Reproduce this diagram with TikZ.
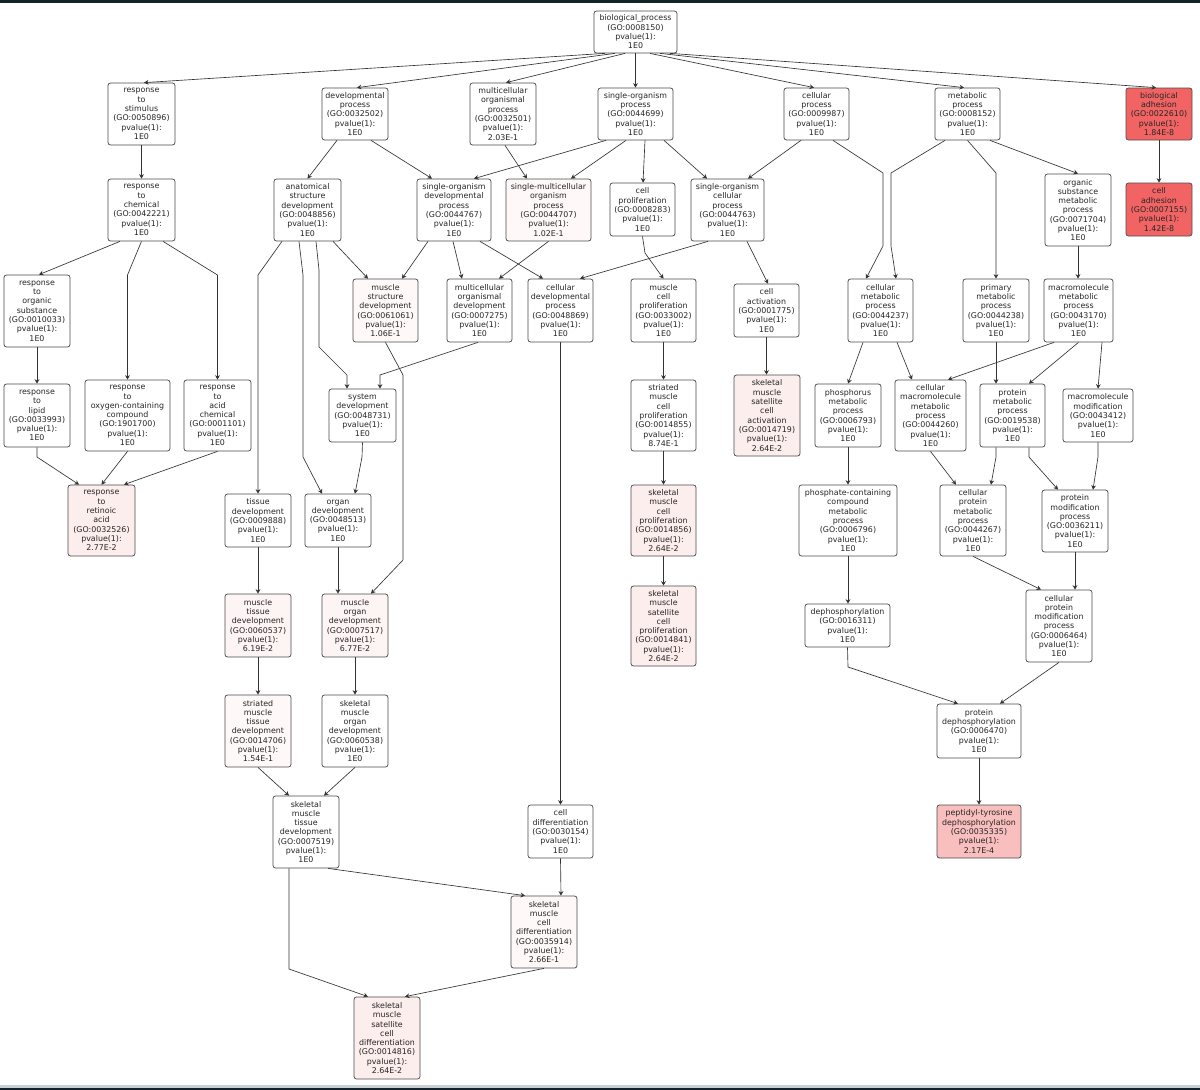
\documentclass[tikz,border=0pt]{standalone}
\usepackage{fontspec}
\newfontfamily\gofont{DejaVu Sans}
\usetikzlibrary{arrows.meta}
\definecolor{pA}{RGB}{252,238,236}
\definecolor{pB}{RGB}{253,245,243}
\definecolor{pC}{RGB}{254,249,248}
\definecolor{redA}{RGB}{242,100,100}
\definecolor{pinkA}{RGB}{249,190,190}
\definecolor{barA}{RGB}{20,34,44}
\definecolor{barB}{RGB}{200,208,212}
\tikzset{
  go/.style={draw=black!70, line width=0.75pt, rounded corners=2.5pt, align=center, inner sep=0pt,
    font=\gofont\fontsize{7.9}{9.3}\selectfont, text=black!85},
  e/.style={draw=black!80, line width=0.65pt, -{Stealth[length=4.5pt,width=4.8pt,inset=1.5pt]}}
}
\newcommand\gonode[6]{\node[go,minimum width=#3pt,minimum height=#4pt,fill=#5] (#1) at (#2) {#6};}
\begin{document}
\begin{tikzpicture}[x=1pt,y=-1pt]
\useasboundingbox (0,0) rectangle (1200,1090);
\fill[white] (0,0) rectangle (1200,1090);
\fill[barA] (0,0) rectangle (1200,2.5);
\fill[barB] (0,1085) rectangle (1200,1087.5);
\fill[barA] (0,1087.5) rectangle (1200,1090);

\gonode{bp}{635.5,32}{83}{42}{white}{biological\_process\\(GO:0008150)\\pvalue(1):\\1E0}
\gonode{rs}{141.5,114}{67}{62}{white}{response\\to\\stimulus\\(GO:0050896)\\pvalue(1):\\1E0}
\gonode{dp}{355,114}{66}{52}{white}{developmental\\process\\(GO:0032502)\\pvalue(1):\\1E0}
\gonode{mop}{503,114}{66}{62}{white}{multicellular\\organismal\\process\\(GO:0032501)\\pvalue(1):\\2.03E-1}
\gonode{sop}{635.5,114}{75}{52}{white}{single-organism\\process\\(GO:0044699)\\pvalue(1):\\1E0}
\gonode{cp}{816.5,114}{65}{52}{white}{cellular\\process\\(GO:0009987)\\pvalue(1):\\1E0}
\gonode{mp}{967.5,114}{65}{52}{white}{metabolic\\process\\(GO:0008152)\\pvalue(1):\\1E0}
\gonode{ba}{1159,114}{66}{52}{redA}{biological\\adhesion\\(GO:0022610)\\pvalue(1):\\1.84E-8}
\gonode{rc}{141.5,210}{67}{62}{white}{response\\to\\chemical\\(GO:0042221)\\pvalue(1):\\1E0}
\gonode{asd}{307.5,210}{67}{62}{white}{anatomical\\structure\\development\\(GO:0048856)\\pvalue(1):\\1E0}
\gonode{sodp}{454,210}{74}{62}{white}{single-organism\\developmental\\process\\(GO:0044767)\\pvalue(1):\\1E0}
\gonode{smop}{548.5,210}{85}{62}{pC}{single-multicellular\\organism\\process\\(GO:0044707)\\pvalue(1):\\1.02E-1}
\gonode{cprol}{642.5,209.5}{65}{53}{white}{cell\\proliferation\\(GO:0008283)\\pvalue(1):\\1E0}
\gonode{socp}{727.5,210}{73}{62}{white}{single-organism\\cellular\\process\\(GO:0044763)\\pvalue(1):\\1E0}
\gonode{osmp}{1078,210}{66}{72}{white}{organic\\substance\\metabolic\\process\\(GO:0071704)\\pvalue(1):\\1E0}
\gonode{ca}{1159,209.5}{66}{53}{redA}{cell\\adhesion\\(GO:0007155)\\pvalue(1):\\1.42E-8}
\gonode{ros}{37,311}{66}{72}{white}{response\\to\\organic\\substance\\(GO:0010033)\\pvalue(1):\\1E0}
\gonode{msd}{385.5,310.5}{65}{63}{pC}{muscle\\structure\\development\\(GO:0061061)\\pvalue(1):\\1.06E-1}
\gonode{mod}{479.5,310.5}{65}{63}{white}{multicellular\\organismal\\development\\(GO:0007275)\\pvalue(1):\\1E0}
\gonode{cdp}{560.5,310.5}{65}{63}{white}{cellular\\developmental\\process\\(GO:0048869)\\pvalue(1):\\1E0}
\gonode{mcp}{663.5,310.5}{65}{63}{white}{muscle\\cell\\proliferation\\(GO:0033002)\\pvalue(1):\\1E0}
\gonode{cact}{766.5,310.5}{65}{53}{white}{cell\\activation\\(GO:0001775)\\pvalue(1):\\1E0}
\gonode{cmp}{880.5,310.5}{65}{63}{white}{cellular\\metabolic\\process\\(GO:0044237)\\pvalue(1):\\1E0}
\gonode{pmp}{996,310.5}{66}{63}{white}{primary\\metabolic\\process\\(GO:0044238)\\pvalue(1):\\1E0}
\gonode{mmp}{1078.5,310.5}{69}{63}{white}{macromolecule\\metabolic\\process\\(GO:0043170)\\pvalue(1):\\1E0}
\gonode{rl}{37,415.5}{66}{63}{white}{response\\to\\lipid\\(GO:0033993)\\pvalue(1):\\1E0}
\gonode{roc}{127.5,415.5}{85}{71}{white}{response\\to\\oxygen-containing\\compound\\(GO:1901700)\\pvalue(1):\\1E0}
\gonode{rac}{217.5,415.5}{67}{71}{white}{response\\to\\acid\\chemical\\(GO:0001101)\\pvalue(1):\\1E0}
\gonode{sd}{362.5,415.5}{67}{53}{white}{system\\development\\(GO:0048731)\\pvalue(1):\\1E0}
\gonode{smcp}{663.5,415.5}{65}{71}{white}{striated\\muscle\\cell\\proliferation\\(GO:0014855)\\pvalue(1):\\8.74E-1}
\gonode{smsca}{767,415.5}{66}{81}{pA}{skeletal\\muscle\\satellite\\cell\\activation\\(GO:0014719)\\pvalue(1):\\2.64E-2}
\gonode{phmp}{848,415.5}{66}{63}{white}{phosphorus\\metabolic\\process\\(GO:0006793)\\pvalue(1):\\1E0}
\gonode{cmmp}{930.5,415.5}{71}{71}{white}{cellular\\macromolecule\\metabolic\\process\\(GO:0044260)\\pvalue(1):\\1E0}
\gonode{prmp}{1012.5,415.5}{65}{63}{white}{protein\\metabolic\\process\\(GO:0019538)\\pvalue(1):\\1E0}
\gonode{mmod}{1098,415.5}{70}{53}{white}{macromolecule\\modification\\(GO:0043412)\\pvalue(1):\\1E0}
\gonode{rra}{101.5,520.5}{67}{71}{pA}{response\\to\\retinoic\\acid\\(GO:0032526)\\pvalue(1):\\2.77E-2}
\gonode{td}{258,520.5}{66}{53}{white}{tissue\\development\\(GO:0009888)\\pvalue(1):\\1E0}
\gonode{od}{338,520.5}{66}{53}{white}{organ\\development\\(GO:0048513)\\pvalue(1):\\1E0}
\gonode{smcprol}{663.5,520.5}{65}{71}{pA}{skeletal\\muscle\\cell\\proliferation\\(GO:0014856)\\pvalue(1):\\2.64E-2}
\gonode{pcc}{848,520.5}{98}{71}{white}{phosphate-containing\\compound\\metabolic\\process\\(GO:0006796)\\pvalue(1):\\1E0}
\gonode{cpmp}{973,520.5}{66}{71}{white}{cellular\\protein\\metabolic\\process\\(GO:0044267)\\pvalue(1):\\1E0}
\gonode{pmodp}{1075,521}{66}{62}{white}{protein\\modification\\process\\(GO:0036211)\\pvalue(1):\\1E0}
\gonode{mtd}{258,625.5}{66}{63}{pB}{muscle\\tissue\\development\\(GO:0060537)\\pvalue(1):\\6.19E-2}
\gonode{morgd}{355,625.5}{66}{63}{pB}{muscle\\organ\\development\\(GO:0007517)\\pvalue(1):\\6.77E-2}
\gonode{smscp}{663.5,626}{65}{80}{pA}{skeletal\\muscle\\satellite\\cell\\proliferation\\(GO:0014841)\\pvalue(1):\\2.64E-2}
\gonode{deph}{847.5,625.5}{85}{43}{white}{dephosphorylation\\(GO:0016311)\\pvalue(1):\\1E0}
\gonode{cpmod}{1059,626}{66}{72}{white}{cellular\\protein\\modification\\process\\(GO:0006464)\\pvalue(1):\\1E0}
\gonode{smtd}{258,731}{66}{72}{pC}{striated\\muscle\\tissue\\development\\(GO:0014706)\\pvalue(1):\\1.54E-1}
\gonode{smod}{355,731}{66}{72}{white}{skeletal\\muscle\\organ\\development\\(GO:0060538)\\pvalue(1):\\1E0}
\gonode{pdeph}{979,731}{84}{54}{white}{protein\\dephosphorylation\\(GO:0006470)\\pvalue(1):\\1E0}
\gonode{smtdb}{306,832}{66}{72}{white}{skeletal\\muscle\\tissue\\development\\(GO:0007519)\\pvalue(1):\\1E0}
\gonode{cdiff}{560.5,831.5}{65}{53}{white}{cell\\differentiation\\(GO:0030154)\\pvalue(1):\\1E0}
\gonode{ptd}{979,831.5}{84}{53}{pinkA}{peptidyl-tyrosine\\dephosphorylation\\(GO:0035335)\\pvalue(1):\\2.17E-4}
\gonode{smcd}{544,932}{66}{72}{pC}{skeletal\\muscle\\cell\\differentiation\\(GO:0035914)\\pvalue(1):\\2.66E-1}
\gonode{smscd}{387,1038}{66}{82}{pA}{skeletal\\muscle\\satellite\\cell\\differentiation\\(GO:0014816)\\pvalue(1):\\2.64E-2}

% edges from biological_process
\draw[e] ([xshift=-30.5pt]bp.south) -- ([xshift=2.5pt]rs.north);
\draw[e] ([xshift=-20.5pt]bp.south) -- ([xshift=2pt]dp.north);
\draw[e] ([xshift=-10.5pt]bp.south) -- ([xshift=3pt]mop.north);
\draw[e] (bp.south) -- (sop.north);
\draw[e] ([xshift=14.5pt]bp.south) -- ([xshift=-2.5pt]cp.north);
\draw[e] ([xshift=24.5pt]bp.south) -- ([xshift=-3.5pt]mp.north);
\draw[e] ([xshift=34.5pt]bp.south) -- ([xshift=-3pt]ba.north);
% response branch
\draw[e] (rs.south) -- (rc.north);
\draw[e] ([xshift=-21.5pt]rc.south) -- ([xshift=2pt]ros.north);
\draw[e] (rc.south) -- (127.5,275) -- (roc.north);
\draw[e] ([xshift=21.5pt]rc.south) -- (217.5,275) -- (rac.north);
\draw[e] (ros.south) -- (rl.north);
\draw[e] (rl.south) -- (37,457) -- ([xshift=-22.5pt]rra.north);
\draw[e] (roc.south) -- (rra.north);
\draw[e] (rac.south) -- ([xshift=22.5pt]rra.north);
% developmental branch
\draw[e] ([xshift=-18pt]dp.south) -- (asd.north);
\draw[e] ([xshift=16pt]dp.south) -- ([xshift=-22pt]sodp.north);
\draw[e] ([xshift=-25.5pt]asd.south) -- (258,275) -- (td.north);
\draw[e] ([xshift=-8.5pt]asd.south) -- (303,275) -- (303,457) -- ([xshift=-16pt]od.north);
\draw[e] ([xshift=8.5pt]asd.south) -- (319,270) -- (319,347) -- (347,375) -- ([xshift=-15.5pt]sd.north);
\draw[e] ([xshift=25.5pt]asd.south) -- ([xshift=-17.5pt]msd.north);
\draw[e] ([xshift=-26pt]sodp.south) -- ([xshift=16.5pt]msd.north);
\draw[e] ([xshift=-1pt]sodp.south) -- ([xshift=-17.5pt]mod.north);
\draw[e] ([xshift=26pt]sodp.south) -- ([xshift=-17.5pt]cdp.north);
\draw[e] (smop.south) -- ([xshift=19.5pt]mod.north);
\draw[e] ([xshift=-29.5pt]sop.south) -- ([xshift=20pt]sodp.north);
\draw[e] ([xshift=-9.5pt]sop.south) -- ([xshift=22.5pt]smop.north);
\draw[e] ([xshift=9.5pt]sop.south) -- ([xshift=0.5pt]cprol.north);
\draw[e] ([xshift=28.5pt]sop.south) -- ([xshift=-20.5pt]socp.north);
\draw[e] ([xshift=2pt]mop.south) -- ([xshift=-21.5pt]smop.north);
\draw[e] ([xshift=-15.5pt]cp.south) -- ([xshift=20.5pt]socp.north);
\draw[e] ([xshift=16.5pt]cp.south) -- (883,173) -- (883,246) -- ([xshift=-14.5pt]cmp.north);
\draw[e] ([xshift=-22.5pt]mp.south) -- (891,173) -- (891,246) -- ([xshift=15.5pt]cmp.north);
\draw[e] (mp.south) -- (996,173) -- (pmp.north);
\draw[e] ([xshift=22.5pt]mp.south) -- (osmp.north);
\draw[e] (ba.south) -- (ca.north);
\draw[e] (osmp.south) -- (osmp.south |- mmp.north);
\draw[e] ([xshift=-19.5pt]socp.south) -- ([xshift=19.5pt]cdp.north);
\draw[e] ([xshift=19.5pt]socp.south) -- ([xshift=1.5pt]cact.north);
\draw[e] (cprol.south) -- (645,253) -- (mcp.north);
\draw[e] (mcp.south) -- (smcp.north);
\draw[e] (smcp.south) -- (smcprol.north);
\draw[e] (smcprol.south) -- (smscp.north);
\draw[e] (cact.south) -- (cact.south |- smsca.north);
\draw[e] (msd.south) -- (403,375) -- (403,560) -- ([xshift=16pt]morgd.north);
\draw[e] ([xshift=-1.5pt]mod.south) -- (380,375) -- ([xshift=17.5pt]sd.north);
\draw[e] (cdp.south) -- (cdiff.north);
\draw[e] (sd.south) -- (362,457) -- ([xshift=17pt]od.north);
\draw[e] (td.south) -- (mtd.north);
\draw[e] (od.south) -- ([xshift=-17pt]morgd.north);
\draw[e] (mtd.south) -- (smtd.north);
\draw[e] (morgd.south) -- (smod.north);
\draw[e] (smtd.south) -- ([xshift=-17pt]smtdb.north);
\draw[e] (smod.south) -- ([xshift=18pt]smtdb.north);
\draw[e] ([xshift=22pt]smtdb.south) -- ([xshift=-19pt]smcd.north);
\draw[e] ([xshift=-17pt]smtdb.south) -- (289,969) -- ([xshift=-19pt]smscd.north);
\draw[e] (cdiff.south) -- ([xshift=17pt]smcd.north);
\draw[e] (smcd.south) -- ([xshift=18pt]smscd.north);
% metabolic branch
\draw[e] ([xshift=-17.5pt]cmp.south) -- (phmp.north);
\draw[e] ([xshift=16.5pt]cmp.south) -- ([xshift=-18.5pt]cmmp.north);
\draw[e] ([xshift=-24.5pt]mmp.south) -- ([xshift=17.5pt]cmmp.north);
\draw[e] (mmp.south) -- ([xshift=16.5pt]prmp.north);
\draw[e] ([xshift=23.5pt]mmp.south) -- (mmod.north);
\draw[e] (pmp.south) -- ([xshift=-16.5pt]prmp.north);
\draw[e] (phmp.south) -- (pcc.north);
\draw[e] (cmmp.south) -- ([xshift=-17pt]cpmp.north);
\draw[e] ([xshift=-16.5pt]prmp.south) -- (996,457) -- ([xshift=18pt]cpmp.north);
\draw[e] ([xshift=16.5pt]prmp.south) -- (1029,457) -- ([xshift=-17pt]pmodp.north);
\draw[e] (mmod.south) -- (1098,457) -- ([xshift=18pt]pmodp.north);
\draw[e] (pcc.south) -- (pcc.south |- deph.north);
\draw[e] (cpmp.south) -- ([xshift=-18pt]cpmod.north);
\draw[e] (pmodp.south) -- ([xshift=16pt]cpmod.north);
\draw[e] (deph.south) -- (848,667) -- ([xshift=-21pt]pdeph.north);
\draw[e] (cpmod.south) -- ([xshift=21pt]pdeph.north);
\draw[e] (pdeph.south) -- (ptd.north);
\end{tikzpicture}
\end{document}
